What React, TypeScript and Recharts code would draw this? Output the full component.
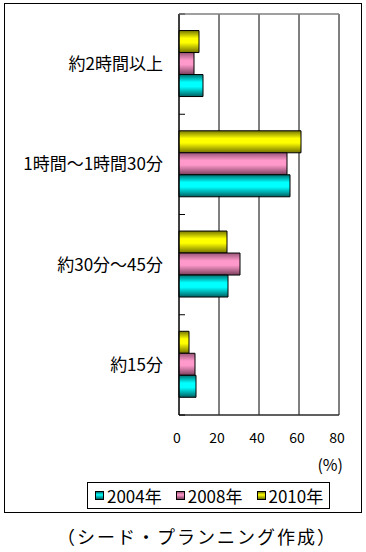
import { BarChart, Bar, XAxis, YAxis, CartesianGrid, ReferenceArea } from "recharts";

const categories = ["約2時間以上", "1時間〜1時間30分", "約30分〜45分", "約15分"];
const values2004 = [12, 55.5, 24.5, 8.5];
const values2008 = [7.5, 54, 30.5, 8];
const values2010 = [10, 61, 24, 5];
const xTicks = [0, 20, 40, 60, 80];

const FONT = "'Noto Sans CJK JP', 'Noto Sans', sans-serif";
const PLOT_TOP = 14;
const PLOT_BOTTOM = 415;
const BAND = (PLOT_BOTTOM - PLOT_TOP) / categories.length;
const TICK_MARGIN = 16;

// legend order 2004 → 2010, bars drawn top to bottom 2010 → 2004
const series = [
  { key: "y2004", label: "2004年", stops: ["#006f70", "#00ffff", "#00ffff", "#005f60"] },
  { key: "y2008", label: "2008年", stops: ["#9a5577", "#ff99cc", "#ff99cc", "#7a3f5c"] },
  { key: "y2010", label: "2010年", stops: ["#777700", "#ffff00", "#ffff00", "#707000"] },
];

const data = categories.map((name, i) => ({
  name,
  y2004: values2004[i],
  y2008: values2008[i],
  y2010: values2010[i],
}));

function CategoryTick(props: any) {
  const { x, y, payload, index } = props;
  const axisX = x + TICK_MARGIN;
  const half = BAND / 2;
  return (
    <g>
      {index === 0 && (
        <>
          <line x1={axisX} x2={axisX + 6} y1={y - half} y2={y - half} stroke="#000" />
          {/* top edge of the plot frame */}
          <line x1={axisX} x2={axisX + 160} y1={y - half} y2={y - half} stroke="#808080" />
        </>
      )}
      <line x1={axisX} x2={axisX + 6} y1={y + half} y2={y + half} stroke="#000" />
      <text x={x} y={y} dy="0.36em" textAnchor="end" fontSize={17} fill="#000" fontFamily={FONT}>
        {payload.value}
      </text>
    </g>
  );
}

export default function App() {
  return (
    <div style={{ position: "absolute", left: 0, top: 0, width: 366, height: 552, background: "#fff", fontFamily: FONT }}>
      <div
        style={{
          position: "absolute",
          left: 4,
          top: 3,
          width: 356,
          height: 508,
          border: "1px solid #000",
        }}
      />
      <div style={{ position: "absolute", left: 0, top: 0 }}>
        <BarChart
          width={366}
          height={552}
          data={data}
          layout="vertical"
          margin={{ top: PLOT_TOP, right: 27, bottom: 107, left: 9 }}
          barCategoryGap="16.5%"
          barGap={0}
        >
          <defs>
            {series.map((s) => (
              <linearGradient key={s.key} id={`g-${s.key}`} x1="0" y1="0" x2="0" y2="1">
                <stop offset="0%" stopColor={s.stops[0]} />
                <stop offset="35%" stopColor={s.stops[1]} />
                <stop offset="55%" stopColor={s.stops[2]} />
                <stop offset="100%" stopColor={s.stops[3]} />
              </linearGradient>
            ))}
          </defs>
          <CartesianGrid horizontal={false} stroke="#000" strokeOpacity={1} />
          <ReferenceArea x1={0} x2={80} fill="none" fillOpacity={0} stroke="#808080" strokeOpacity={1} ifOverflow="visible" />
          <XAxis
            type="number"
            domain={[0, 80]}
            ticks={xTicks}
            interval={0}
            height={30}
            axisLine={{ stroke: "#000" }}
            tickLine={false}
            tickMargin={12}
            tick={{ fontSize: 14, fill: "#000", fontFamily: FONT, dx: -2 }}
            label={{
              value: "(%)",
              position: "insideBottomRight",
              offset: 0,
              dx: 4,
              dy: 26,
              fontSize: 16,
              fill: "#000",
              fontFamily: FONT,
            }}
          />
          <YAxis
            type="category"
            dataKey="name"
            width={170}
            interval={0}
            tickSize={0}
            tickMargin={TICK_MARGIN}
            axisLine={{ stroke: "#000" }}
            tickLine={false}
            tick={<CategoryTick />}
          />
          {[...series].reverse().map((s) => (
            <Bar
              key={s.key}
              dataKey={s.key}
              fill={`url(#g-${s.key})`}
              stroke="#000"
              strokeWidth={1}
              isAnimationActive={false}
            />
          ))}
        </BarChart>
      </div>
      <div
        style={{
          position: "absolute",
          left: 87,
          top: 482,
          width: 243,
          height: 27,
          boxSizing: "border-box",
          border: "1px solid #000",
          display: "flex",
          alignItems: "center",
          fontSize: 17,
          color: "#000",
        }}
      >
        {series.map((s, i) => (
          <div
            key={s.key}
            style={{ display: "flex", alignItems: "center", marginLeft: i === 0 ? 7 : 14, lineHeight: "17px" }}
          >
            <span
              style={{
                display: "inline-block",
                width: 7,
                height: 7,
                border: "1px solid #000",
                background: `linear-gradient(${s.stops[0]}, ${s.stops[1]} 40%, ${s.stops[3]})`,
                marginRight: 3,
              }}
            />
            <span>{s.label}</span>
          </div>
        ))}
      </div>
      <div
        style={{
          position: "absolute",
          left: 57,
          top: 526,
          fontSize: 18,
          letterSpacing: 2,
          lineHeight: "20px",
          color: "#000",
          whiteSpace: "nowrap",
        }}
      >
        （シード・プランニング作成）
      </div>
    </div>
  );
}
